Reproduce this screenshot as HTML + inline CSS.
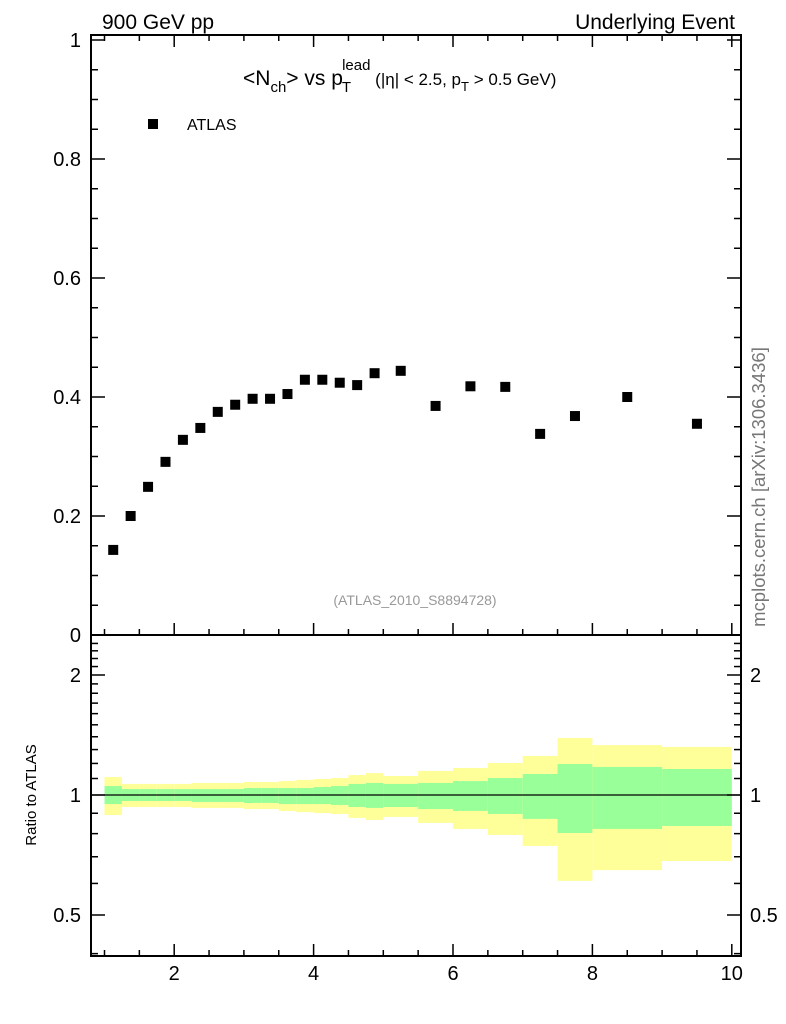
<!DOCTYPE html>
<html><head><meta charset="utf-8"><style>
body{margin:0;background:#fff}
svg{display:block;font-family:"Liberation Sans",sans-serif}
</style></head><body>
<svg id="c" width="786" height="1024" viewBox="0 0 786 1024">
<text x="102" y="29" font-size="21">900 GeV pp</text>
<text x="735" y="29" font-size="21" text-anchor="end">Underlying Event</text>
<text x="765" y="487" font-size="18.5" fill="#777" text-anchor="middle" transform="rotate(-90 765 487)">mcplots.cern.ch [arXiv:1306.3436]</text>
<text x="36" y="795" font-size="15" text-anchor="middle" transform="rotate(-90 36 795)">Ratio to ATLAS</text>
<g id="bands"></g>
<g id="main"></g>
<g id="axes" stroke="#000" fill="none"></g>
<g id="labels" font-size="20"></g>
<text x="243" y="85" font-size="21">&lt;N<tspan font-size="15" dy="7">ch</tspan><tspan dy="-7">&gt; vs p</tspan><tspan font-size="15" dy="7" dx="-1">T</tspan><tspan font-size="15" dy="-22" dx="-9">lead</tspan><tspan font-size="17" dy="15"> (|η| &lt; 2.5, p</tspan><tspan font-size="13" dy="6">T</tspan><tspan font-size="17" dy="-6"> &gt; 0.5 GeV)</tspan></text>
<rect x="148" y="119" width="10" height="10" fill="#000"/>
<text x="187" y="130" font-size="16">ATLAS</text>
<text x="415" y="605" font-size="14" fill="#999" text-anchor="middle">(ATLAS_2010_S8894728)</text>
</svg>
<script>
const xVals=[1.125,1.375,1.625,1.875,2.125,2.375,2.625,2.875,3.125,3.375,3.625,3.875,4.125,4.375,4.625,4.875,5.25,5.75,6.25,6.75,7.25,7.75,8.5,9.5];
const yVals=[0.143,0.200,0.249,0.291,0.328,0.348,0.375,0.387,0.397,0.397,0.405,0.429,0.429,0.424,0.420,0.440,0.444,0.385,0.418,0.417,0.338,0.368,0.400,0.355];
const binEdges=[1,1.25,1.5,1.75,2,2.25,2.5,2.75,3,3.25,3.5,3.75,4,4.25,4.5,4.75,5,5.5,6,6.5,7,7.5,8,9,10];
const yellowHi=[1.109,1.066,1.066,1.066,1.066,1.072,1.072,1.072,1.078,1.078,1.084,1.091,1.097,1.103,1.122,1.135,1.116,1.149,1.169,1.203,1.253,1.390,1.334,1.320];
const yellowLo=[0.891,0.933,0.933,0.933,0.933,0.928,0.928,0.928,0.922,0.922,0.912,0.906,0.901,0.896,0.876,0.866,0.881,0.851,0.822,0.794,0.745,0.609,0.648,0.683];
const greenHi=[1.053,1.035,1.035,1.035,1.035,1.035,1.035,1.035,1.041,1.041,1.041,1.041,1.047,1.053,1.066,1.072,1.066,1.072,1.084,1.103,1.129,1.196,1.176,1.162];
const greenLo=[0.949,0.966,0.966,0.966,0.966,0.960,0.960,0.960,0.955,0.955,0.949,0.949,0.949,0.944,0.933,0.928,0.933,0.922,0.912,0.896,0.871,0.803,0.822,0.836];
const xTicks=[2,4,6,8,10];
const yTicks=[0,0.2,0.4,0.6,0.8,1];
const rTicks=[0.5,1,2];

const NS="http://www.w3.org/2000/svg";
const L=91,R=741,T=35,B=635,RB=956;
const xs=v=>104.5+(v-1)*69.7;
const ys=v=>635-v*595;
const rs=v=>795-120*Math.log2(v);
function mk(parent,tag,attrs){const e=document.createElementNS(NS,tag);for(const k in attrs)e.setAttribute(k,attrs[k]);document.getElementById(parent).appendChild(e);return e;}

for(let i=0;i<binEdges.length-1;i++){
  const x0=xs(binEdges[i]),x1=xs(binEdges[i+1]);
  let e=mk('bands','rect',{x:x0,y:rs(yellowHi[i]),width:x1-x0,height:rs(yellowLo[i])-rs(yellowHi[i]),fill:'#ffff99'});
  
  
  e=mk('bands','rect',{x:x0,y:rs(greenHi[i]),width:x1-x0,height:rs(greenLo[i])-rs(greenHi[i]),fill:'#99ff99'});
  
  
}
let ln=mk('bands','line',{x1:L,x2:R,y1:rs(1),y2:rs(1),stroke:'#000','stroke-width':1.2});



for(let i=0;i<xVals.length;i++){
  const p=mk('main','rect',{x:xs(xVals[i])-5,y:ys(yVals[i])-5,width:10,height:10,fill:'#000'});
  
  
}

let f=mk('axes','rect',{x:L,y:T,width:R-L,height:B-T,'stroke-width':2});


f=mk('axes','rect',{x:L,y:B,width:R-L,height:RB-B,'stroke-width':2});



for(let v=1;v<=10.01;v+=0.5){
  const major=Math.abs(v-Math.round(v/2)*2)<1e-6;
  const len=major?12:6;
  [B,RB].forEach(yb=>{
    let t=mk('axes','line',{x1:xs(v),x2:xs(v),y1:yb,y2:yb-len,'stroke-width':1.5});
    
    
  });
  let t=mk('axes','line',{x1:xs(v),x2:xs(v),y1:T,y2:T+len,'stroke-width':1.5});
  
  
}
xTicks.forEach(v=>{
  const t=mk('labels','text',{x:xs(v),y:RB+24,'text-anchor':'middle'});
  t.textContent=v;
  
  
});
for(let k=0;k<=20;k++){
  const v=k*0.05,major=k%4===0,len=major?14:7;
  [[L,1],[R,-1]].forEach(([x,d])=>{
    const t=mk('axes','line',{x1:x,x2:x+d*len,y1:ys(v),y2:ys(v),'stroke-width':1.5});
    
    
  });
}
yTicks.forEach(v=>{
  const t=mk('labels','text',{x:81,y:ys(v)+7,'text-anchor':'end'});
  t.textContent=v===0?'0':(v===1?'1':v.toFixed(1));
  
  
});
for(let k=4;k<25;k++){
  const vv=k/10;
  const major=[5,10,20].includes(k);
  const y=rs(vv);if(y<B||y>RB)continue;
  const len=major?14:7;
  [[L,1],[R,-1]].forEach(([x,d])=>{
    const t=mk('axes','line',{x1:x,x2:x+d*len,y1:y,y2:y,'stroke-width':1.5});
    
    
  });
}
rTicks.forEach(v=>{
  [[81,'end'],[750,'start']].forEach(([x,a])=>{
    const t=mk('labels','text',{x:x,y:rs(v)+7,'text-anchor':a});
    t.textContent=v;
    
    
  });
});
</script>
</body></html>
